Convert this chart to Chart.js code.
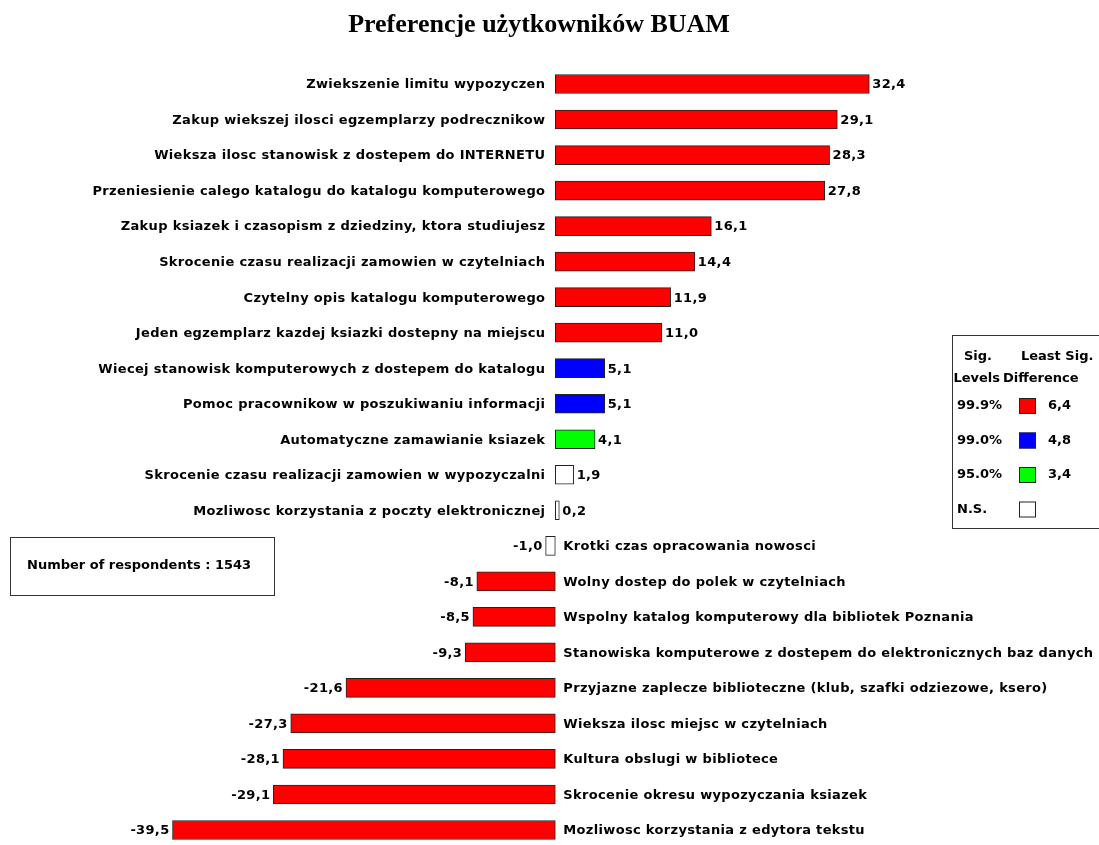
<!DOCTYPE html>
<html>
<head>
<meta charset="utf-8">
<script src="https://cdn.jsdelivr.net/npm/chart.js@4/dist/chart.umd.min.js"></script>
<style>
  html, body { margin: 0; padding: 0; background: #fff; }
  #wrap { width: 1099px; height: 845px; position: relative; }
</style>
</head>
<body>
<div id="wrap"><canvas id="chart" width="1099" height="845"></canvas></div>
<script>
const titleText = "Preferencje użytkowników BUAM";

const categories = [
  "Zwiekszenie limitu wypozyczen",
  "Zakup wiekszej ilosci egzemplarzy podrecznikow",
  "Wieksza ilosc stanowisk z dostepem do INTERNETU",
  "Przeniesienie calego katalogu do katalogu komputerowego",
  "Zakup ksiazek i czasopism z dziedziny, ktora studiujesz",
  "Skrocenie czasu realizacji zamowien w czytelniach",
  "Czytelny opis katalogu komputerowego",
  "Jeden egzemplarz kazdej ksiazki dostepny na miejscu",
  "Wiecej stanowisk komputerowych z dostepem do katalogu",
  "Pomoc pracownikow w poszukiwaniu informacji",
  "Automatyczne zamawianie ksiazek",
  "Skrocenie czasu realizacji zamowien w wypozyczalni",
  "Mozliwosc korzystania z poczty elektronicznej",
  "Krotki czas opracowania nowosci",
  "Wolny dostep do polek w czytelniach",
  "Wspolny katalog komputerowy dla bibliotek Poznania",
  "Stanowiska komputerowe z dostepem do elektronicznych baz danych",
  "Przyjazne zaplecze biblioteczne (klub, szafki odziezowe, ksero)",
  "Wieksza ilosc miejsc w czytelniach",
  "Kultura obslugi w bibliotece",
  "Skrocenie okresu wypozyczania ksiazek",
  "Mozliwosc korzystania z edytora tekstu"
];

const values = [32.4, 29.1, 28.3, 27.8, 16.1, 14.4, 11.9, 11.0, 5.1, 5.1, 4.1, 1.9, 0.2,
  -1.0, -8.1, -8.5, -9.3, -21.6, -27.3, -28.1, -29.1, -39.5];

// significance legend
const sigLevels = ["99.9%", "99.0%", "95.0%", "N.S."];
const sigLsd = [6.4, 4.8, 3.4, null];
const sigColors = ["#ff0000", "#0000ff", "#00ff00", "#ffffff"];

const respondents = 1543;

function sigColor(v) {
  const a = Math.abs(v);
  for (let i = 0; i < sigLsd.length; i++) {
    if (sigLsd[i] !== null && a >= sigLsd[i]) return sigColors[i];
  }
  return sigColors[sigColors.length - 1];
}

function fmt(v) {
  return v.toFixed(1).replace(".", ",");
}

function setLabelFont(ctx, spacing) {
  ctx.font = "bold 13px 'DejaVu Sans'";
  ctx.fillStyle = "#000";
  if ("letterSpacing" in ctx) ctx.letterSpacing = spacing;
}

const decorations = {
  id: "decorations",
  afterDraw(chart) {
    const ctx = chart.ctx;
    const xs = chart.scales.x;
    const ys = chart.scales.y;
    const meta = chart.getDatasetMeta(0);
    const zero = xs.getPixelForValue(0);

    ctx.save();

    // title
    ctx.font = "bold 26px 'Liberation Serif'";
    ctx.fillStyle = "#000";
    ctx.textAlign = "center";
    ctx.textBaseline = "alphabetic";
    ctx.fillText(titleText, 539, 32);

    // row labels and values
    setLabelFont(ctx, "0.33px");
    ctx.textBaseline = "middle";
    values.forEach((v, i) => {
      const y = ys.getPixelForValue(i) + 1;
      const bar = meta.data[i];
      if (v >= 0) {
        ctx.textAlign = "right";
        ctx.fillText(categories[i], zero - 10, y);
        ctx.textAlign = "left";
        ctx.fillText(fmt(v), bar.x + 3, y);
      } else {
        ctx.textAlign = "left";
        ctx.fillText(categories[i], zero + 8, y);
        ctx.textAlign = "right";
        ctx.fillText(fmt(v), bar.x - 3, y);
      }
    });

    // respondents box
    ctx.strokeStyle = "#333";
    ctx.lineWidth = 1;
    ctx.strokeRect(10.5, 537.5, 264, 58);
    ctx.textAlign = "left";
    setLabelFont(ctx, "0px");
    ctx.fillText("Number of respondents : " + respondents, 27, 566);

    // significance legend box
    ctx.strokeRect(952.5, 335.5, 160, 193);
    ctx.textAlign = "center";
    ctx.fillText("Sig.", 978, 357);
    ctx.textAlign = "right";
    ctx.fillText("Levels", 1000, 379);
    ctx.textAlign = "left";
    ctx.fillText("Least Sig.", 1021, 357);
    ctx.fillText("Difference", 1003, 379);
    sigLevels.forEach((lvl, i) => {
      const y = 406 + i * 34.5;
      ctx.fillStyle = "#000";
      ctx.textAlign = "left";
      ctx.fillText(lvl, 957, y);
      ctx.fillStyle = sigColors[i];
      ctx.fillRect(1019, y - 8, 17, 16);
      ctx.strokeStyle = "#222";
      ctx.strokeRect(1019.5, y - 7.5, 16, 15);
      if (sigLsd[i] !== null) {
        ctx.fillStyle = "#000";
        ctx.fillText(fmt(sigLsd[i]), 1048, y);
      }
    });

    ctx.restore();
  }
};

new Chart(document.getElementById("chart"), {
  type: "bar",
  data: {
    labels: categories,
    datasets: [{
      data: values,
      backgroundColor: values.map(sigColor),
      borderColor: "#222",
      borderWidth: 1,
      borderSkipped: false,
      barThickness: 19,
      minBarLength: 4,
      clip: false
    }]
  },
  options: {
    indexAxis: "y",
    responsive: false,
    animation: false,
    layout: { padding: { top: 84, bottom: 15, left: 0, right: 0 } },
    scales: {
      x: { display: false, min: -57.3, max: 56.1, grid: { display: false } },
      y: { display: false, offset: false, grid: { display: false } }
    },
    plugins: {
      legend: { display: false },
      tooltip: { enabled: false },
      title: { display: false }
    }
  },
  plugins: [decorations]
});
</script>
</body>
</html>
